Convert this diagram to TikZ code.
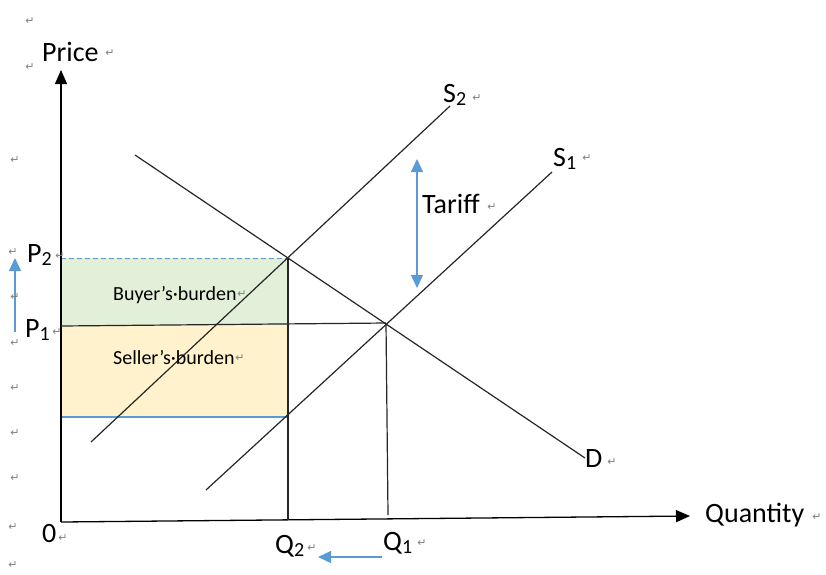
\documentclass[tikz,border=0pt]{standalone}
\usepackage{fontspec}
\setmainfont{Carlito}
\newfontfamily\symfont{DejaVu Sans}
\usetikzlibrary{arrows.meta}
\definecolor{wblue}{HTML}{5B9BD5}
\definecolor{wgreen}{HTML}{E2EFD9}
\definecolor{worange}{HTML}{FFF2CC}
\definecolor{pmgray}{HTML}{808080}
\newcommand{\lowidx}[1]{\raisebox{-0.12em}{\fontsize{20}{20}\selectfont #1}}
\newcommand{\parmark}{{\symfont\fontsize{11}{11}\selectfont\textcolor{pmgray}{↵}}}
\begin{document}
\begin{tikzpicture}[x=1pt,y=-1pt,
  curve/.style={line width=1.2pt, black!85},
  axis/.style={line width=1.3pt, -{Triangle[length=14pt,width=12pt]}},
  bluearrow/.style={wblue, line width=1.3pt},
  big/.style={inner sep=0pt, anchor=base west, font=\fontsize{28}{30}\selectfont},
  small/.style={inner sep=0pt, anchor=base west, font=\fontsize{20}{22}\selectfont},
  pmark/.style={inner sep=0pt, anchor=center}]
\useasboundingbox (0,0) rectangle (826,574);
% coordinates
\coordinate (O) at (61,522);
\coordinate (ytop) at (61,70);
\coordinate (xend) at (690,516);
\coordinate (s2a) at (91,442);
\coordinate (s2b) at (450,106);
\coordinate (s1a) at (206,490);
\coordinate (s1b) at (552,172);
\coordinate (da) at (135,155);
\coordinate (db) at (585,458);
\coordinate (E2) at (288,258);
\coordinate (E1) at (386,323);
\coordinate (p2l) at (61,258);
\coordinate (p1l) at (61,326);
\coordinate (lowl) at (61,417);
\coordinate (lowr) at (288,417);
\coordinate (q2f) at (288,520);
\coordinate (q1f) at (388,515);
% shaded areas
\fill[wgreen] (61,258) rectangle (288,325);
\fill[worange] (61,325) rectangle (288,417);
\draw[wblue, line width=1pt, dash pattern=on 5pt off 3pt] (p2l) -- (E2);
\draw[wblue, line width=1.1pt] (lowl) -- (lowr);
% axes
\draw[axis] (O) -- (ytop);
\draw[axis] (O) -- (xend);
% curves
\draw[curve] (s2a) -- (s2b);
\draw[curve] (s1a) -- (s1b);
\draw[curve] (da) -- (db);
\draw[curve] (p1l) -- (E1);
\draw[curve] (E2) -- (q2f);
\draw[curve] (E1) -- (q1f);
% blue arrows
\coordinate (tt) at (417,159);
\coordinate (tb) at (417,288);
\draw[bluearrow, {Triangle[length=13pt,width=12pt]}-{Triangle[length=13pt,width=12pt]}] (tt) -- (tb);
\coordinate (pa) at (15,332);
\coordinate (pb) at (15,258);
\draw[bluearrow, -{Triangle[length=13pt,width=12pt]}] (pa) -- (pb);
\coordinate (qa) at (382,557);
\coordinate (qb) at (318,557);
\draw[bluearrow, -{Triangle[length=13pt,width=12pt]}] (qa) -- (qb);
% labels
\node[big] (price) at (42,61) {Price};
\node[big] (quantity) at (705,522) {Quantity};
\node[big] (tariff) at (422,213) {Tariff};
\node[big] (S2) at (443,102) {S\lowidx{2}};
\node[big] (S1) at (553,166) {S\lowidx{1}};
\node[big] (D) at (585,467) {D};
\node[big] (P2) at (27,262) {P\lowidx{2}};
\node[big] (P1) at (25,337) {P\lowidx{1}};
\node[big] (zero) at (42,542) {0};
\node[big] (Q2) at (275,553) {Q\lowidx{2}};
\node[big] (Q1) at (383,550) {Q\lowidx{1}};
\node[small] (buyer) at (113,300) {Buyer’s·burden};
\node[small] (seller) at (113,364) {Seller’s·burden};
% paragraph marks
\foreach \px/\py [count=\i] in {30/21, 30/67, 110/53, 15/160, 13/252, 15/297, 15/343, 15/388, 15/433, 15/478, 13/527, 13/565,
  60/256, 57/332, 242/294, 240/358, 477/98, 587/158, 492/207, 612/462, 817/517, 63/538, 312/548, 422/543}
  \node[pmark] (pm\i) at (\px,\py) {\parmark};
\end{tikzpicture}
\end{document}
